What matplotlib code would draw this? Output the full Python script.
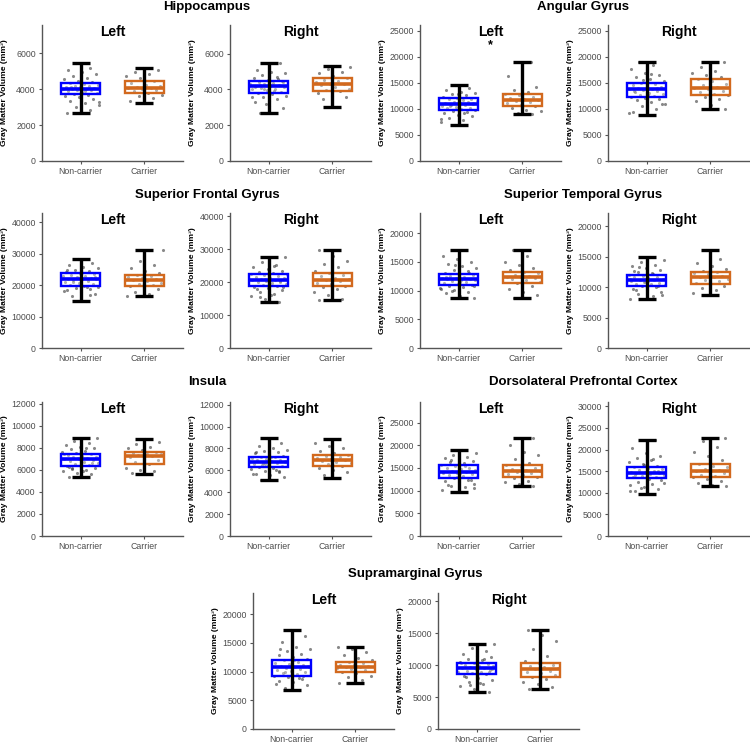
import numpy as np
import matplotlib
matplotlib.use("Agg")
import matplotlib.pyplot as plt

plt.rcParams['font.family'] = ['Liberation Sans', 'DejaVu Sans']

# ---------------- data ----------------
regions = ["Hippocampus", "Angular Gyrus", "Superior Frontal Gyrus",
           "Superior Temporal Gyrus", "Insula", "Dorsolateral Prefrontal Cortex",
           "Supramarginal Gyrus"]
sides = ["Left", "Right"]
groups = ["Non-carrier", "Carrier"]

# summary values per panel (order: region x side)
nc_lo  = [2700, 2670, 6920, 8850, 14800, 13940, 8660, 8080, 5310, 5090, 9710, 9690, 6740, 5830]
nc_q1  = [3760, 3815, 9810, 12370, 19790, 18790, 10990, 10110, 6390, 6340, 12790, 13310, 9240, 8540]
nc_med = [4040, 4170, 10900, 13780, 21900, 20700, 11920, 11100, 6940, 6770, 14190, 14620, 10760, 9480]
nc_q3  = [4350, 4480, 12180, 15000, 23900, 22420, 12900, 12030, 7420, 7260, 15740, 16000, 11920, 10360]
nc_hi  = [5480, 5480, 14680, 18970, 28250, 27780, 16980, 15000, 8900, 8990, 18900, 22150, 17270, 13280]

c_lo  = [3220, 3040, 9100, 10000, 16510, 14550, 8780, 8680, 5580, 5270, 11030, 11460, 8020, 6200]
c_q1  = [3815, 3890, 10510, 12630, 19580, 18890, 11220, 10490, 6520, 6400, 13090, 13540, 10000, 8180]
c_med = [4090, 4280, 11730, 14100, 21690, 20700, 12270, 11590, 7240, 6950, 14410, 15000, 10870, 9320]
c_q3  = [4480, 4630, 12950, 15830, 23170, 22630, 13260, 12420, 7660, 7440, 15740, 16690, 11690, 10260]
c_hi  = [5170, 5315, 18970, 18970, 31110, 29700, 17090, 16150, 8780, 8900, 21690, 22690, 14240, 15470]

# individual subjects (estimated from the jittered points)
nc_hippo_l = [2700, 2850, 3000, 3100, 3250, 3350, 3450, 3550, 3620, 3700, 3760, 3800, 3850, 3900, 3950, 3980, 4000, 4020, 4040, 4060, 4100, 4130, 4170, 4200, 4250, 4300, 4350, 4400, 4480, 4550, 4650, 4750, 4850, 4950, 5050, 5200, 5480, 3300, 3900, 4150]
c_hippo_l = [3220, 3350, 3500, 3600, 3700, 3815, 3880, 3950, 4000, 4050, 4090, 4120, 4180, 4250, 4350, 4480, 4600, 4750, 4850, 4950, 5050, 5170]
nc_hippo_r = [2670, 2950, 3100, 3300, 3450, 3550, 3650, 3750, 3815, 3880, 3950, 4000, 4050, 4100, 4130, 4170, 4200, 4230, 4280, 4330, 4380, 4430, 4480, 4550, 4620, 4700, 4800, 4900, 5000, 5100, 5480, 3200, 3600, 3900, 4250, 4400, 3350, 4150, 4600, 4050]
c_hippo_r = [3040, 3450, 3550, 3650, 3780, 3890, 3980, 4050, 4150, 4220, 4280, 4330, 4400, 4480, 4550, 4630, 4750, 4900, 5000, 5150, 5250, 5315]
nc_ang_l = [6920, 7500, 7900, 8300, 8600, 8900, 9200, 9450, 9650, 9810, 9950, 10100, 10250, 10400, 10550, 10700, 10800, 10900, 11000, 11100, 11250, 11400, 11550, 11700, 11850, 12000, 12180, 12400, 12650, 12900, 13100, 13300, 13600, 14000, 14680, 8100, 9300, 10600, 11200, 12800]
c_ang_l = [9100, 9300, 9600, 9900, 10200, 10510, 10800, 11100, 11400, 11600, 11730, 11900, 12100, 12400, 12700, 12950, 13200, 13600, 14200, 15300, 16400, 18970]
nc_ang_r = [8850, 9500, 10000, 10500, 10900, 11300, 11700, 12000, 12200, 12370, 12550, 12750, 12950, 13150, 13350, 13550, 13700, 13780, 13900, 14050, 14200, 14400, 14600, 14800, 15000, 15300, 15700, 16100, 16500, 17000, 17600, 18400, 18970, 11000, 12600, 13400, 14100, 15500, 9300, 16800]
c_ang_r = [10000, 10800, 11500, 12000, 12400, 12630, 12900, 13200, 13500, 13800, 14100, 14300, 14600, 14900, 15300, 15830, 16100, 16500, 17000, 17400, 18100, 18970]
nc_sfg_l = [14800, 16500, 17200, 17800, 18300, 18700, 19100, 19500, 19790, 20100, 20400, 20700, 21000, 21300, 21600, 21800, 21900, 22000, 22200, 22400, 22700, 23000, 23300, 23600, 23900, 24200, 24500, 24900, 25300, 25800, 26300, 27000, 28250, 18000, 19300, 20900, 22500, 23400, 24700, 16900]
c_sfg_l = [16510, 17200, 17900, 18600, 19200, 19580, 19900, 20300, 20700, 21200, 21690, 21900, 22200, 22500, 22800, 23170, 23800, 24500, 25500, 26500, 27500, 31110]
nc_sfg_r = [13940, 15000, 15800, 16500, 17100, 17600, 18100, 18500, 18790, 19100, 19400, 19700, 20000, 20300, 20500, 20700, 20800, 21000, 21200, 21400, 21700, 21900, 22100, 22420, 22700, 23100, 23500, 24000, 24500, 25200, 26000, 27780, 16200, 17900, 19900, 21100, 22600, 24800, 15400, 18600]
c_sfg_r = [14550, 15000, 16200, 17000, 17800, 18400, 18890, 19300, 19700, 20200, 20700, 21000, 21400, 21800, 22200, 22630, 23500, 24500, 25500, 26500, 28000, 29700]
nc_stg_l = [8660, 9100, 9500, 9800, 10100, 10400, 10650, 10850, 10990, 11150, 11300, 11450, 11600, 11750, 11850, 11920, 12000, 12100, 12250, 12400, 12550, 12700, 12900, 13100, 13350, 13600, 13900, 14200, 14600, 15000, 15500, 16000, 16980, 9900, 10700, 11500, 12300, 13000, 14400, 10300]
c_stg_l = [8780, 9200, 9800, 10300, 10800, 11220, 11500, 11800, 12000, 12150, 12270, 12400, 12550, 12750, 13000, 13260, 13600, 14000, 14500, 15000, 16000, 17090]
nc_stg_r = [8080, 8500, 8900, 9200, 9500, 9750, 9950, 10110, 10300, 10450, 10600, 10750, 10900, 11000, 11100, 11200, 11300, 11450, 11600, 11750, 11900, 12030, 12250, 12500, 12800, 13100, 13400, 13700, 14100, 14500, 15000, 9600, 10200, 10800, 11400, 12100, 13300, 8700, 11050, 12600]
c_stg_r = [8680, 9000, 9500, 9900, 10200, 10490, 10700, 10950, 11200, 11400, 11590, 11750, 11900, 12100, 12250, 12420, 12700, 13000, 13500, 14000, 14600, 16150]
nc_ins_l = [5310, 5600, 5750, 5900, 6000, 6100, 6200, 6300, 6390, 6480, 6560, 6640, 6720, 6800, 6870, 6940, 7000, 7060, 7120, 7180, 7250, 7320, 7420, 7520, 7620, 7720, 7850, 7980, 8100, 8250, 8400, 8600, 8900, 5850, 6250, 6650, 7050, 7450, 8000, 6150]
c_ins_l = [5580, 5700, 5850, 6000, 6200, 6520, 6700, 6850, 7000, 7120, 7240, 7320, 7400, 7480, 7560, 7660, 7800, 7950, 8100, 8300, 8500, 8780]
nc_ins_r = [5090, 5350, 5550, 5700, 5850, 5980, 6100, 6220, 6340, 6420, 6500, 6580, 6650, 6710, 6770, 6830, 6900, 6960, 7030, 7100, 7180, 7260, 7350, 7450, 7550, 7650, 7780, 7900, 8050, 8250, 8450, 8990, 5650, 6050, 6450, 6850, 7200, 7700, 5900, 6600]
c_ins_r = [5270, 5600, 5850, 6050, 6250, 6400, 6550, 6680, 6800, 6880, 6950, 7050, 7150, 7250, 7350, 7440, 7600, 7800, 8000, 8250, 8500, 8900]
nc_dlpfc_l = [9710, 10200, 10700, 11100, 11500, 11800, 12100, 12400, 12790, 13000, 13250, 13450, 13650, 13850, 14000, 14190, 14350, 14500, 14700, 14900, 15100, 15350, 15740, 16000, 16300, 16600, 16900, 17200, 17500, 17900, 18300, 18900, 11300, 12300, 13100, 14100, 15500, 16700, 10500, 13800]
c_dlpfc_l = [11030, 11400, 11800, 12200, 12700, 13090, 13400, 13700, 14000, 14200, 14410, 14600, 14800, 15000, 15300, 15740, 16200, 17000, 17800, 18500, 20000, 21690]
nc_dlpfc_r = [9690, 10300, 10800, 11300, 11700, 12100, 12500, 12900, 13310, 13550, 13750, 13950, 14150, 14350, 14500, 14620, 14750, 14900, 15100, 15300, 15550, 15800, 16000, 16300, 16700, 17100, 17500, 18000, 18500, 19200, 20300, 22150, 11000, 12200, 13100, 14000, 15000, 16500, 10500, 17800]
c_dlpfc_r = [11460, 11900, 12300, 12800, 13200, 13540, 13900, 14200, 14500, 14800, 15000, 15200, 15500, 15900, 16300, 16690, 17500, 18500, 19500, 20500, 22000, 22690]
nc_smg_l = [6740, 7200, 7700, 8100, 8400, 8700, 9000, 9240, 9500, 9750, 9950, 10150, 10350, 10500, 10650, 10760, 10850, 10950, 11100, 11250, 11400, 11600, 11920, 12200, 12500, 12800, 13100, 13500, 13900, 14300, 15200, 16100, 17270, 7900, 8900, 10000, 11000, 12000, 14000, 9300]
c_smg_l = [8020, 8600, 9000, 9300, 9700, 10000, 10200, 10400, 10550, 10700, 10870, 10950, 11050, 11200, 11400, 11690, 12000, 12400, 12900, 13400, 13900, 14240]
nc_smg_r = [5830, 6300, 6700, 7000, 7400, 7700, 8000, 8300, 8540, 8700, 8850, 9000, 9150, 9250, 9380, 9480, 9580, 9680, 9800, 9920, 10050, 10200, 10360, 10550, 10750, 10950, 11200, 11500, 11800, 12200, 12700, 13280, 7200, 8100, 8900, 9600, 10300, 11000, 6900, 9350]
c_smg_r = [6200, 6600, 7000, 7400, 7800, 8180, 8500, 8750, 9000, 9150, 9320, 9500, 9700, 9900, 10100, 10260, 10700, 11500, 12500, 13800, 14800, 15470]

nc_points = [nc_hippo_l, nc_hippo_r, nc_ang_l, nc_ang_r, nc_sfg_l, nc_sfg_r, nc_stg_l, nc_stg_r,
             nc_ins_l, nc_ins_r, nc_dlpfc_l, nc_dlpfc_r, nc_smg_l, nc_smg_r]
c_points = [c_hippo_l, c_hippo_r, c_ang_l, c_ang_r, c_sfg_l, c_sfg_r, c_stg_l, c_stg_r,
            c_ins_l, c_ins_r, c_dlpfc_l, c_dlpfc_r, c_smg_l, c_smg_r]

significant = ["", "", "*", "", "", "", "", "", "", "", "", "", "", ""]

# ---------------- layout / style ----------------
y_top = [7580, 7600, 26150, 26150, 42860, 41000, 23480, 22190, 12150, 12240, 29550, 31000, 23660, 21300]
y_step = [2000, 2000, 5000, 5000, 10000, 10000, 5000, 5000, 2000, 2000, 5000, 5000, 5000, 5000]

W, H = 750, 743
row_y = [(25, 161), (213, 348), (402, 536), (593, 729)]
col_x = [[42, 230], [420, 608]]
row4_x = [253, 438]
title_y = [7, 195, 382, 574]
title_x = [207, 583]
panel_w = 141

colors = ["#0000FF", "#D2691E"]
tick_gray = "#4D4D4D"
spine_gray = "#555555"

fig = plt.figure(figsize=(W / 100, H / 100), dpi=100)
fig.patch.set_facecolor("white")


def jitter(n, seed_shift):
    k = np.arange(n)
    return ((k * 0.6180339887 + seed_shift) % 1.0 - 0.5) * 0.58


for r, region in enumerate(regions):
    row = r // 2 if r < 6 else 3
    col = r % 2 if r < 6 else 0
    top_px, bot_px = row_y[row]
    if r < 6:
        xs = col_x[col]
        tx = title_x[col]
    else:
        xs = row4_x
        tx = 415
    fig.text(tx / W, 1 - title_y[row] / H, region, ha="center", va="center",
             fontsize=9.5, fontweight="bold")
    for s, side in enumerate(sides):
        p = r * 2 + s
        ax = fig.add_axes([xs[s] / W, 1 - bot_px / H, panel_w / W, (bot_px - top_px) / H])
        for g, (pts, lo, q1, med, q3, hi) in enumerate([
                (nc_points[p], nc_lo[p], nc_q1[p], nc_med[p], nc_q3[p], nc_hi[p]),
                (c_points[p], c_lo[p], c_q1[p], c_med[p], c_q3[p], c_hi[p])]):
            pos = g + 1
            xj = pos + jitter(len(pts), 0.13 * (p + 1) + 0.37 * g)
            ax.scatter(xj, pts, s=5, color="#3a3a3a", alpha=0.6, linewidths=0, zorder=2)
            ax.bxp([{"med": med, "q1": q1, "q3": q3, "whislo": q1, "whishi": q3}],
                   positions=[pos], widths=0.62, showfliers=False, showcaps=False,
                   patch_artist=True,
                   boxprops=dict(facecolor=(1, 1, 1, 0.35), edgecolor=colors[g], linewidth=1.7),
                   medianprops=dict(color=colors[g], linewidth=2.6),
                   whiskerprops=dict(linewidth=0), zorder=3)
            ax.errorbar([pos], [med], yerr=[[med - lo], [hi - med]], fmt="none",
                        ecolor="black", elinewidth=2.4, capsize=6.3, capthick=2.4, zorder=4)
        ax.set_xlim(0.39, 2.61)
        ax.set_ylim(0, y_top[p])
        ax.set_yticks(np.arange(0, y_top[p], y_step[p]))
        ax.set_xticks([1, 2])
        ax.set_xticklabels(groups)
        ax.tick_params(axis="both", labelsize=6.3, colors=spine_gray, labelcolor=tick_gray,
                       length=2.5, width=0.8, pad=2)
        for sp in ["top", "right"]:
            ax.spines[sp].set_visible(False)
        for sp in ["left", "bottom"]:
            ax.spines[sp].set_color(spine_gray)
            ax.spines[sp].set_linewidth(1.0)
        ax.set_ylabel("Gray Matter Volume (mm³)", fontsize=6.1, fontweight="bold")
        ax.yaxis.set_label_coords(-34 / panel_w, 0.5)
        ax.text(0.5, 0.95, side, transform=ax.transAxes, ha="center", va="center",
                fontsize=10, fontweight="bold")
        if significant[p]:
            ax.text(0.5, 0.855, significant[p], transform=ax.transAxes, ha="center",
                    va="center", fontsize=9, fontweight="bold")

fig.savefig("out.png", dpi=100, facecolor="white")
